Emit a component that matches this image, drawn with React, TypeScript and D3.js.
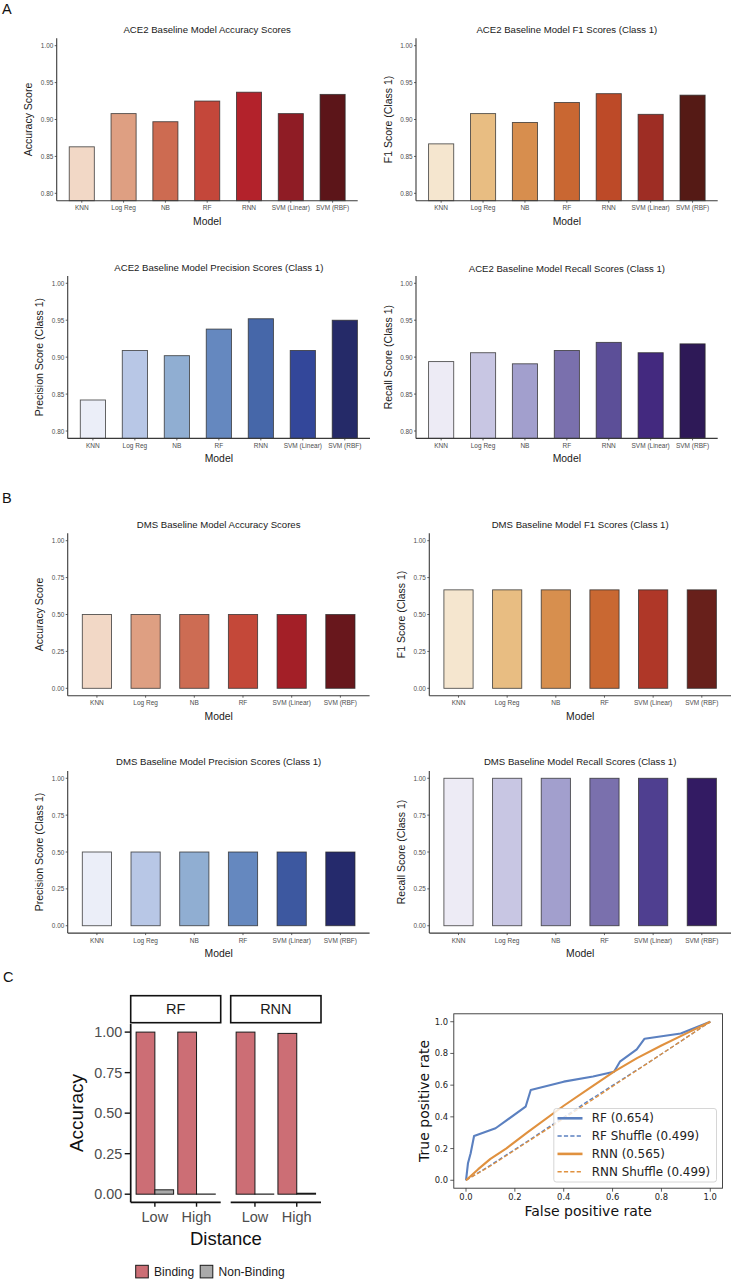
import React from 'react';
import * as d3 from 'd3';

// ---------------- DATA ----------------
const ace2Models = ['KNN', 'Log Reg', 'NB', 'RF', 'RNN', 'SVM (Linear)', 'SVM (RBF)'];
const dmsModels = ['KNN', 'Log Reg', 'NB', 'RF', 'SVM (Linear)', 'SVM (RBF)'];

const ace2Accuracy = [0.863, 0.908, 0.897, 0.925, 0.937, 0.908, 0.934];
const ace2F1 = [0.867, 0.908, 0.896, 0.923, 0.935, 0.907, 0.933];
const ace2Precision = [0.842, 0.909, 0.902, 0.938, 0.952, 0.909, 0.950];
const ace2Recall = [0.894, 0.906, 0.891, 0.909, 0.920, 0.906, 0.918];

const dmsAccuracy = [0.5, 0.5, 0.5, 0.5, 0.5, 0.5];
const dmsF1 = [0.667, 0.667, 0.667, 0.667, 0.667, 0.667];
const dmsPrecision = [0.5, 0.5, 0.5, 0.5, 0.5, 0.5];
const dmsRecall = [1.0, 1.0, 1.0, 1.0, 1.0, 1.0];

const ace2Ticks = [0.8, 0.85, 0.9, 0.95, 1.0];
const dmsTicks = [0, 0.25, 0.5, 0.75, 1.0];

const redsAce2 = ['#F2D8C6', '#DE9F82', '#CD6B51', '#C4473A', '#B3222B', '#8F1C25', '#5C1519'];
const orangesAce2 = ['#F5E6CF', '#E8BD82', '#D78E4E', '#C96732', '#BD4A28', '#9E2D24', '#551A15'];
const bluesAce2 = ['#EBEEF8', '#B8C7E6', '#90AED2', '#6588BF', '#4667A9', '#33479A', '#252A68'];
const purplesAce2 = ['#EDEBF5', '#C8C6E3', '#A29FCD', '#7A70AD', '#5C4F98', '#43297F', '#2E1957'];
const redsDms = ['#F2D8C6', '#DE9F82', '#CD6C53', '#C44839', '#A31F27', '#68171C'];
const orangesDms = ['#F5E6CF', '#E8BD82', '#D78F4E', '#C96832', '#AF3728', '#68201B'];
const bluesDms = ['#EBEEF8', '#B8C7E6', '#90AED2', '#6588BF', '#3D58A0', '#252A6C'];
const purplesDms = ['#EDEBF5', '#C8C6E3', '#A29FCD', '#7A70AD', '#4F3F90', '#331B63'];

// Panel C: accuracy by distance
const facetModels = ['RF', 'RNN'];
const distanceLevels = ['Low', 'High'];
const classes = ['Binding', 'Non-Binding'];
const classColors = ['#CC6E75', '#AAAAAA'];
const rfBinding = [1.0, 1.0];
const rfNonBinding = [0.027, 0.001];
const rnnBinding = [1.0, 0.992];
const rnnNonBinding = [0.001, 0.006];
const cTicks = [0, 0.25, 0.5, 0.75, 1.0];

// ROC curves
const rfFpr = [0, 0.008, 0.019, 0.033, 0.121, 0.244, 0.265, 0.4, 0.52, 0.606, 0.63, 0.699, 0.731, 0.879, 1];
const rfTpr = [0, 0.107, 0.17, 0.279, 0.328, 0.464, 0.569, 0.622, 0.655, 0.685, 0.748, 0.826, 0.893, 0.926, 1];
const rfShufFpr = [0, 0.1, 0.25, 0.5, 0.75, 1];
const rfShufTpr = [0, 0.095, 0.245, 0.5, 0.745, 1];
const rnnFpr = [0, 0.05, 0.1, 0.164, 0.25, 0.4, 0.5, 0.606, 0.7, 0.8, 0.9, 1];
const rnnTpr = [0, 0.07, 0.135, 0.2, 0.3, 0.47, 0.575, 0.685, 0.77, 0.85, 0.925, 1];
const rnnShufFpr = [0, 0.1, 0.25, 0.5, 0.75, 1];
const rnnShufTpr = [0, 0.09, 0.24, 0.49, 0.745, 1];
const rocLabels = ['RF (0.654)', 'RF Shuffle (0.499)', 'RNN (0.565)', 'RNN Shuffle (0.499)'];
const rocTicks = [0, 0.2, 0.4, 0.6, 0.8, 1.0];
const rfColor = '#5B80C0';
const rnnColor = '#E0913F';

// ---------------- COMPONENTS ----------------
const GG = "'Liberation Sans', Arial, Helvetica, sans-serif";
const MPL = "'DejaVu Sans', sans-serif";

type BarProps = {
  x0: number; x1: number; yTop: number; yBottom: number;
  domain: [number, number]; ticks: number[];
  cats: string[]; vals: number[]; colors: string[];
  title: string; titleY: number; ylabel: string;
};

function BarPanel(p: BarProps) {
  const x = d3.scalePoint<string>().domain(p.cats).range([p.x0, p.x1]).padding(0.6);
  const y = d3.scaleLinear().domain(p.domain).range([p.yBottom, p.yTop]);
  const bw = x.step() * 0.6;
  const base = y(Math.max(0, p.domain[0]));
  const fmt = d3.format('.2f');
  const cx = (p.x0 + p.x1) / 2;
  const cy = (p.yTop + p.yBottom) / 2;
  return (
    <g>
      <text x={cx} y={p.titleY} textAnchor="middle" dominantBaseline="central" fontSize={9.6} fontFamily={GG} fill="#1a1a1a">{p.title}</text>
      {p.cats.map((c, i) => (
        <rect key={c} x={(x(c) as number) - bw / 2} y={y(p.vals[i])} width={bw} height={base - y(p.vals[i])}
          fill={p.colors[i]} stroke="#2a2a2a" strokeOpacity={0.8} strokeWidth={0.9} />
      ))}
      <line x1={p.x0} x2={p.x0} y1={p.yTop} y2={p.yBottom} stroke="#3a3a3a" strokeWidth={1.1} />
      <line x1={p.x0} x2={p.x1} y1={p.yBottom} y2={p.yBottom} stroke="#3a3a3a" strokeWidth={1.1} />
      {p.ticks.map(t => (
        <g key={t}>
          <line x1={p.x0 - 2} x2={p.x0} y1={y(t)} y2={y(t)} stroke="#3a3a3a" strokeWidth={0.8} />
          <text x={p.x0 - 3.4} y={y(t)} textAnchor="end" dominantBaseline="central" fontSize={6.4} fontFamily={GG} fill="#4d4d4d">{fmt(t)}</text>
        </g>
      ))}
      {p.cats.map(c => (
        <g key={c}>
          <line x1={x(c)} x2={x(c)} y1={p.yBottom} y2={p.yBottom + 2} stroke="#3a3a3a" strokeWidth={0.8} />
          <text x={x(c)} y={p.yBottom + 6.9} textAnchor="middle" dominantBaseline="central" fontSize={6.5} fontFamily={GG} fill="#4d4d4d">{c}</text>
        </g>
      ))}
      <text x={cx} y={p.yBottom + 20.3} textAnchor="middle" dominantBaseline="central" fontSize={10.4} fontFamily={GG} fill="#1a1a1a">Model</text>
      <text transform={`translate(${p.x0 - 28.5},${cy}) rotate(-90)`} textAnchor="middle" dominantBaseline="central" fontSize={10.5} fontFamily={GG} fill="#1a1a1a">{p.ylabel}</text>
    </g>
  );
}

function DistancePanel() {
  const yTop = 1024, yBottom = 1202.3;
  const y = d3.scaleLinear().domain([-0.05, 1.05]).range([yBottom, yTop]);
  const panels = [
    { name: facetModels[0], x0: 130.7, x1: 220.7, vals: [rfBinding, rfNonBinding] },
    { name: facetModels[1], x0: 230.7, x1: 321, vals: [rnnBinding, rnnNonBinding] },
  ];
  const fmt = d3.format('.2f');
  return (
    <g fontFamily={GG}>
      {panels.map((pn, pi) => {
        const xb = d3.scaleBand<string>().domain(distanceLevels).range([pn.x0, pn.x1]).paddingInner(0).paddingOuter(0.08);
        const sub = d3.scaleBand<string>().domain(classes).range([0, xb.bandwidth() * 0.9]);
        const off = xb.bandwidth() * 0.05;
        return (
          <g key={pn.name}>
            <rect x={pn.x0} y={995.7} width={pn.x1 - pn.x0} height={27} fill="white" stroke="#111" strokeWidth={1.6} />
            <text x={(pn.x0 + pn.x1) / 2} y={1009.4} textAnchor="middle" dominantBaseline="central" fontSize={14.5} fill="#1a1a1a">{pn.name}</text>
            {distanceLevels.map((d, di) => classes.map((c, ci) => {
              const v = pn.vals[ci][di];
              const bx = (xb(d) as number) + off + (sub(c) as number);
              return <rect key={d + c} x={bx} y={y(v)} width={sub.bandwidth()} height={y(0) - y(v)}
                fill={classColors[ci]} stroke="#1a1a1a" strokeWidth={1} />;
            }))}
            <line x1={pn.x0} x2={pn.x1} y1={yBottom} y2={yBottom} stroke="#111" strokeWidth={1.7} />
            {distanceLevels.map(d => {
              const tx = (xb(d) as number) + xb.bandwidth() / 2;
              return (
                <g key={d}>
                  <line x1={tx} x2={tx} y1={yBottom} y2={yBottom + 4.4} stroke="#111" strokeWidth={1.4} />
                  <text x={tx} y={1216.7} textAnchor="middle" dominantBaseline="central" fontSize={14.5} fill="#4d4d4d">{d}</text>
                </g>
              );
            })}
            {pi === 0 && (
              <g>
                <line x1={pn.x0} x2={pn.x0} y1={yTop} y2={yBottom} stroke="#111" strokeWidth={1.7} />
                {cTicks.map(t => (
                  <g key={t}>
                    <line x1={pn.x0 - 6} x2={pn.x0} y1={y(t)} y2={y(t)} stroke="#111" strokeWidth={1.4} />
                    <text x={pn.x0 - 8.5} y={y(t)} textAnchor="end" dominantBaseline="central" fontSize={14.4} fill="#4d4d4d">{fmt(t)}</text>
                  </g>
                ))}
              </g>
            )}
          </g>
        );
      })}
      <text x={225.9} y={1238} textAnchor="middle" dominantBaseline="central" fontSize={18.5} fill="#111">Distance</text>
      <text transform={`translate(76.7,1113) rotate(-90)`} textAnchor="middle" dominantBaseline="central" fontSize={19} fill="#111">Accuracy</text>
      {classes.map((c, i) => {
        const bx = i === 0 ? 135.7 : 200.2;
        return (
          <g key={c}>
            <rect x={bx} y={1265.3} width={12.6} height={12.6} fill={classColors[i]} stroke="#1a1a1a" strokeWidth={1} />
            <text x={bx + 18.4} y={1272} dominantBaseline="central" fontSize={12} fill="#1a1a1a">{c}</text>
          </g>
        );
      })}
    </g>
  );
}

function RocPanel() {
  const x = d3.scaleLinear().domain([-0.05, 1.05]).range([453.8, 722.5]);
  const y = d3.scaleLinear().domain([-0.05, 1.05]).range([1188.2, 1013.8]);
  const line = d3.line<[number, number]>().x(d => x(d[0])).y(d => y(d[1]));
  const zip = (a: number[], b: number[]) => a.map((v, i) => [v, b[i]] as [number, number]);
  const series = [
    { d: zip(rfFpr, rfTpr), color: rfColor, dash: '', w: 2.1 },
    { d: zip(rfShufFpr, rfShufTpr), color: rfColor, dash: '4.2,2.2', w: 1.3 },
    { d: zip(rnnFpr, rnnTpr), color: rnnColor, dash: '', w: 2.1 },
    { d: zip(rnnShufFpr, rnnShufTpr), color: rnnColor, dash: '4.2,2.2', w: 1.3 },
  ];
  const fmt = d3.format('.1f');
  const lx0 = 553.8, lx1 = 716.5, ly0 = 1108.5, ly1 = 1182;
  return (
    <g fontFamily={MPL}>
      {series.map((s, i) => (
        <path key={i} d={line(s.d) as string} fill="none" stroke={s.color} strokeWidth={s.w} strokeDasharray={s.dash || undefined} strokeLinejoin="round" />
      ))}
      <rect x={453.8} y={1013.8} width={722.5 - 453.8} height={1188.2 - 1013.8} fill="none" stroke="#333" strokeWidth={0.9} />
      {rocTicks.map(t => (
        <g key={t}>
          <line x1={x(t)} x2={x(t)} y1={1188.2} y2={1191.7} stroke="#333" strokeWidth={0.8} />
          <text x={x(t)} y={1197} textAnchor="middle" dominantBaseline="central" fontSize={8.4} fill="#222">{fmt(t)}</text>
          <line x1={450.3} x2={453.8} y1={y(t)} y2={y(t)} stroke="#333" strokeWidth={0.8} />
          <text x={448} y={y(t)} textAnchor="end" dominantBaseline="central" fontSize={8.4} fill="#222">{fmt(t)}</text>
        </g>
      ))}
      <text x={588.2} y={1211} textAnchor="middle" dominantBaseline="central" fontSize={14} fill="#111">False positive rate</text>
      <text transform={`translate(424.3,1100.9) rotate(-90)`} textAnchor="middle" dominantBaseline="central" fontSize={14} fill="#111">True positive rate</text>
      <rect x={lx0} y={ly0} width={lx1 - lx0} height={ly1 - ly0} rx={2.5} fill="white" fillOpacity={0.8} stroke="#cccccc" strokeWidth={0.8} />
      {rocLabels.map((lab, i) => {
        const yy = 1118.3 + i * 17.8;
        const s = series[i];
        return (
          <g key={lab}>
            <line x1={557.5} x2={582.5} y1={yy} y2={yy} stroke={s.color} strokeWidth={s.dash ? 1.5 : 2.6} strokeDasharray={s.dash || undefined} />
            <text x={591.8} y={yy} dominantBaseline="central" fontSize={11.9} fill="#222">{lab}</text>
          </g>
        );
      })}
    </g>
  );
}

export default function App() {
  const aceDom: [number, number] = [0.79, 1.01];
  const dmsDom: [number, number] = [-0.05, 1.05];
  return (
    <svg width={733} height={1280} style={{ position: 'absolute', left: 0, top: 0, background: 'white' }}>
      <rect width={733} height={1280} fill="white" />
      <text x={2} y={13.5} fontSize={14.5} fontFamily={GG} fill="#111">A</text>
      <text x={2} y={503} fontSize={14.5} fontFamily={GG} fill="#111">B</text>
      <text x={3} y={982} fontSize={14.5} fontFamily={GG} fill="#111">C</text>

      <BarPanel x0={56.7} x1={357.7} yTop={38.3} yBottom={200.7} domain={aceDom} ticks={ace2Ticks}
        cats={ace2Models} vals={ace2Accuracy} colors={redsAce2} title="ACE2 Baseline Model Accuracy Scores" titleY={29} ylabel="Accuracy Score" />
      <BarPanel x0={416} x1={717.7} yTop={38.3} yBottom={200.7} domain={aceDom} ticks={ace2Ticks}
        cats={ace2Models} vals={ace2F1} colors={orangesAce2} title="ACE2 Baseline Model F1 Scores (Class 1)" titleY={29} ylabel="F1 Score (Class 1)" />
      <BarPanel x0={67.7} x1={370} yTop={275.9} yBottom={438.4} domain={aceDom} ticks={ace2Ticks}
        cats={ace2Models} vals={ace2Precision} colors={bluesAce2} title="ACE2 Baseline Model Precision Scores (Class 1)" titleY={267.8} ylabel="Precision Score (Class 1)" />
      <BarPanel x0={416} x1={717.7} yTop={275.9} yBottom={438.4} domain={aceDom} ticks={ace2Ticks}
        cats={ace2Models} vals={ace2Recall} colors={purplesAce2} title="ACE2 Baseline Model Recall Scores (Class 1)" titleY={268} ylabel="Recall Score (Class 1)" />

      <BarPanel x0={67.7} x1={369.6} yTop={533.3} yBottom={695.7} domain={dmsDom} ticks={dmsTicks}
        cats={dmsModels} vals={dmsAccuracy} colors={redsDms} title="DMS Baseline Model Accuracy Scores" titleY={524.3} ylabel="Accuracy Score" />
      <BarPanel x0={429.3} x1={731} yTop={533.3} yBottom={695.7} domain={dmsDom} ticks={dmsTicks}
        cats={dmsModels} vals={dmsF1} colors={orangesDms} title="DMS Baseline Model F1 Scores (Class 1)" titleY={524.3} ylabel="F1 Score (Class 1)" />
      <BarPanel x0={67.7} x1={369.6} yTop={770.9} yBottom={933.1} domain={dmsDom} ticks={dmsTicks}
        cats={dmsModels} vals={dmsPrecision} colors={bluesDms} title="DMS Baseline Model Precision Scores (Class 1)" titleY={761.8} ylabel="Precision Score (Class 1)" />
      <BarPanel x0={429.3} x1={731} yTop={770.9} yBottom={933.1} domain={dmsDom} ticks={dmsTicks}
        cats={dmsModels} vals={dmsRecall} colors={purplesDms} title="DMS Baseline Model Recall Scores (Class 1)" titleY={761.8} ylabel="Recall Score (Class 1)" />

      <DistancePanel />
      <RocPanel />
    </svg>
  );
}
